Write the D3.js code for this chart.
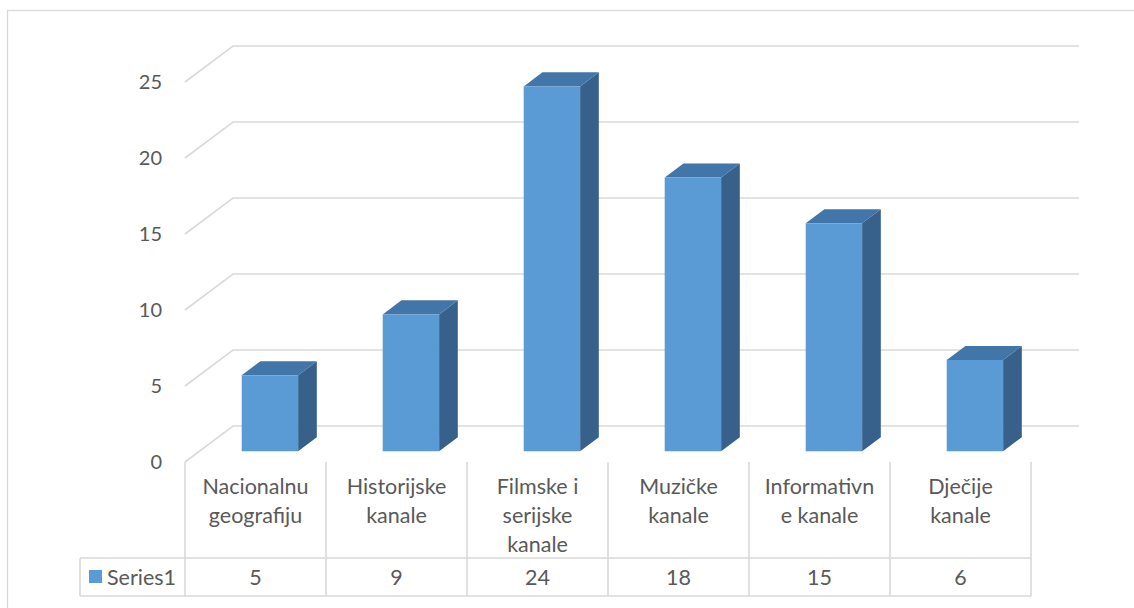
<!DOCTYPE html>
<html><head><meta charset="utf-8">
<script src="https://cdn.jsdelivr.net/npm/d3@7"></script>
<style>
html,body{margin:0;padding:0;background:#fff;}
svg{display:block;font-family:Lato,"Noto Sans",sans-serif;}
</style></head>
<body>
<svg id="chart" width="1134" height="608"></svg>
<script>
const categories = ["Nacionalnu geografiju","Historijske kanale","Filmske i serijske kanale","Muzičke kanale","Informativne kanale","Dječije kanale"];
const categoryLines = [["Nacionalnu","geografiju"],["Historijske","kanale"],["Filmske i","serijske","kanale"],["Muzičke","kanale"],["Informativn","e kanale"],["Dječije","kanale"]];
const values = [5, 9, 24, 18, 15, 6];
const seriesName = "Series1";
const yTicks = [0, 5, 10, 15, 20, 25];

const svg = d3.select("#chart");
const grid = "#D9D9D9", textCol = "#595959";
const cFront = "#5B9BD5", cTop = "#4275A8", cSide = "#37618A";

// outer chart border
svg.append("rect").attr("x",7.5).attr("y",10.5).attr("width",1140).attr("height",620)
  .attr("fill","none").attr("stroke",grid).attr("stroke-width",1.3);

const x = d3.scaleBand().domain(categories).range([185, 1031]).paddingInner(0).paddingOuter(0);
const y = d3.scaleLinear().domain([0, 25]).range([462, 82]);
const DX = 48, DY = -36; // full depth offset
const P = (px, v, d) => [px + d*DX, y(v) + d*DY];

// back-wall gridlines + left side wall diagonals
const g = svg.append("g");
yTicks.forEach(t => {
  const a = P(185, t, 0), b = P(185, t, 1), c = P(1031, t, 1);
  g.append("path").attr("d", d3.line()([a,b,c]))
    .attr("fill","none").attr("stroke",grid).attr("stroke-width",1.6);
});

// y labels
svg.append("g").selectAll("text").data(yTicks).join("text")
  .attr("x",162).attr("y",d=>y(d)).attr("dy","0.36em").attr("text-anchor","end")
  .attr("fill",textCol).attr("font-size",20).text(d=>d);

// bars
const d1 = 0.3, d2 = 0.69, bw = 0.4;
const bars = svg.append("g");
categories.forEach((c, i) => {
  const v = values[i];
  const x0 = x(c) + x.bandwidth()*(1-bw)/2, x1 = x0 + x.bandwidth()*bw;
  const fBL = P(x0,0,d1), fBR = P(x1,0,d1), fTL = P(x0,v,d1), fTR = P(x1,v,d1);
  const bBR = P(x1,0,d2), bTL = P(x0,v,d2), bTR = P(x1,v,d2);
  const line = d3.line();
  bars.append("path").attr("d", line([fBR,bBR,bTR,fTR])+"Z").attr("fill",cSide);
  bars.append("path").attr("d", line([fTL,fTR,bTR,bTL])+"Z").attr("fill",cTop);
  bars.append("path").attr("d", line([fBL,fBR,fTR,fTL])+"Z").attr("fill",cFront);
});

// data table
const tb = svg.append("g").attr("stroke",grid).attr("stroke-width",1.6).attr("fill","none");
const cols = categories.map(c=>x(c)).concat([x.range()[1]]);
cols.forEach(cx => tb.append("line").attr("x1",cx).attr("x2",cx).attr("y1",462).attr("y2",596));
tb.append("line").attr("x1",80).attr("x2",1031).attr("y1",558).attr("y2",558);
tb.append("line").attr("x1",80).attr("x2",1031).attr("y1",596).attr("y2",596);
tb.append("line").attr("x1",80).attr("x2",80).attr("y1",558).attr("y2",596);

const tt = svg.append("g").attr("fill",textCol).attr("font-size",21.5).attr("text-anchor","middle");
categories.forEach((c, i) => {
  const t = tt.append("text").attr("x", x(c)+x.bandwidth()/2).attr("y", 494);
  categoryLines[i].forEach((ln, j) => t.append("tspan").attr("x", x(c)+x.bandwidth()/2).attr("dy", j===0?0:29).text(ln));
  tt.append("text").attr("x", x(c)+x.bandwidth()/2).attr("y", 585).text(values[i]);
});
svg.append("rect").attr("x",89).attr("y",570).attr("width",13).attr("height",13).attr("fill",cFront);
svg.append("text").attr("x",107).attr("y",585).attr("fill",textCol).attr("font-size",21.5).text(seriesName);
</script>
</body></html>
